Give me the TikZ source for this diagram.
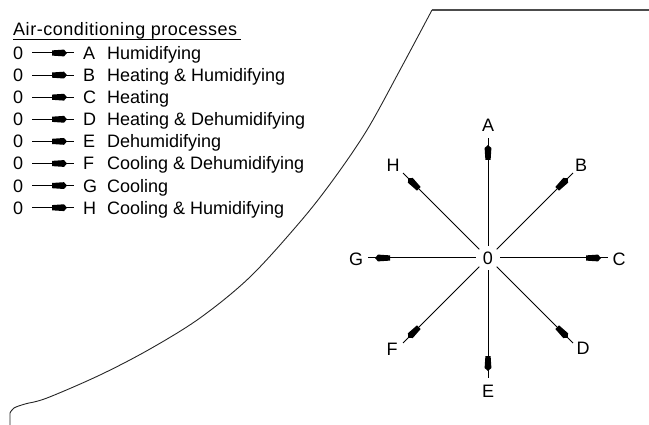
\documentclass[tikz,border=0pt]{standalone}
\usepackage{fontspec}
\setmainfont{Liberation Sans}
\usetikzlibrary{decorations.markings,calc}
\newcommand{\fsz}{\fontsize{18pt}{20pt}\selectfont}
\tikzset{
  txt/.style={inner sep=0pt, font=\fsz, text height=12.9pt, text depth=0pt},
  arr/.style={line width=1pt, postaction={decorate},
    decoration={markings, mark=at position 1 with {
      \fill (-22pt,-2.6pt) -- (-10pt,-3.4pt) -- (-7pt,0pt) -- (-10pt,3.4pt) -- (-22pt,2.6pt) -- cycle;}}},
  curveline/.style={line width=0.9pt, black!85},
  topline/.style={line width=1.8pt, black!70},
}
\begin{document}
\begin{tikzpicture}[x=1pt, y=-1pt]
\useasboundingbox (0,0) rectangle (649,425);
% saturation curve
\draw[curveline] (10,425) -- (10,413) plot[smooth, tension=0.55] coordinates {(10,413) (14,408) (25,404) (47,398) (100,375) (150,349) (200,318) (250,277) (300,222) (333,180) (367,130) (400,70) (432,10)};
\draw[topline] (432,10) -- (649,10);
% legend title
\node[txt, anchor=west] (title) at (13,29) {\addfontfeature{LetterSpace=3}Air-conditioning processes};
\draw[line width=1.2pt] ($(title.south west)+(0,3.5)$) -- ($(title.south east)+(4,3.5)$);
% legend rows
\foreach \i/\L/\D in {1/A/Humidifying, 2/B/Heating \& Humidifying, 3/C/Heating, 4/D/Heating \& Dehumidifying, 5/E/Dehumidifying, 6/F/Cooling \& Dehumidifying, 7/G/Cooling, 8/H/Cooling \& Humidifying}{
  \pgfmathsetmacro{\yy}{53+22.1*(\i-1)}
  \node[txt, anchor=west] (z\i) at (13,\yy) {0};
  \node[txt, anchor=west] (l\i) at (83,\yy) {\L};
  \node[txt, anchor=west] (d\i) at (107,\yy) {\D};
  \draw[arr] ($(z\i.east)+(9,0)$) -- ($(l\i.west)+(-9,0)$);
}
% star
\node[txt, circle, minimum size=24pt] (O) at (488,258) {0};
\coordinate (tA) at (488,138);
\coordinate (tB) at (573,173);
\coordinate (tC) at (608,258);
\coordinate (tD) at (573,343);
\coordinate (tE) at (488,378);
\coordinate (tF) at (403,343);
\coordinate (tG) at (368,258);
\coordinate (tH) at (403,173);
\foreach \p in {A,B,C,D,E,F,G,H}{\draw[arr] (O) -- (t\p);}
\node[txt] (A) at (488,125) {A};
\node[txt] (B) at (581,165) {B};
\node[txt] (C) at (619,259) {C};
\node[txt] (D) at (583,348) {D};
\node[txt] (E) at (488,391) {E};
\node[txt] (F) at (392,349) {F};
\node[txt] (G) at (356,259) {G};
\node[txt] (H) at (393,165) {H};
\end{tikzpicture}
\end{document}
